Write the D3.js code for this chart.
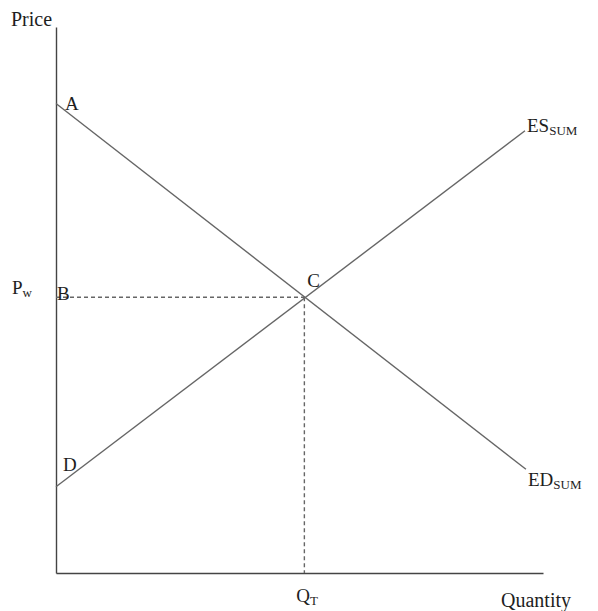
<!DOCTYPE html>
<html>
<head>
<meta charset="utf-8">
<script src="https://cdn.jsdelivr.net/npm/d3@7"></script>
<style>
  body { margin: 0; background: #fff; }
  text { font-family: "Liberation Serif", "Times New Roman", serif; fill: #1e1e1e; }
  .axis path { stroke: #444; stroke-width: 1.4; }
  .curve { stroke: #666; stroke-width: 1.4; fill: none; }
  .guide { stroke: #666; stroke-width: 1.4; stroke-dasharray: 4 3; }
</style>
</head>
<body>
<div id="wrapper"></div>
<script>
// values (abstract units, 0..100 on both axes)
const demandQuantity = [0, 96.5];
const demandPrice = [86, 19];
const supplyQuantity = [0, 96.3];
const supplyPrice = [15.8, 81];
const equilibriumQuantity = 51;
const worldPrice = 50.5;

const demandPoints = demandQuantity.map((q, i) => ({ q, p: demandPrice[i] }));
const supplyPoints = supplyQuantity.map((q, i) => ({ q, p: supplyPrice[i] }));

const qAccessor = (d) => d.q;
const pAccessor = (d) => d.p;

let dimensions = {
  width: 598,
  height: 611,
  margin: { top: 27, right: 55, bottom: 38, left: 56 },
};
dimensions.boundedWidth =
  dimensions.width - dimensions.margin.left - dimensions.margin.right;
dimensions.boundedHeight =
  dimensions.height - dimensions.margin.top - dimensions.margin.bottom;

const wrapper = d3
  .select("#wrapper")
  .append("svg")
  .attr("width", dimensions.width)
  .attr("height", dimensions.height);

const bounds = wrapper
  .append("g")
  .attr("transform", `translate(${dimensions.margin.left},${dimensions.margin.top})`);

const xScale = d3.scaleLinear().domain([0, 100]).range([0, dimensions.boundedWidth]);
const yScale = d3.scaleLinear().domain([0, 100]).range([dimensions.boundedHeight, 0]);

// axes: plain lines, no ticks
bounds
  .append("g")
  .attr("class", "axis")
  .attr("transform", `translate(0,${dimensions.boundedHeight})`)
  .call(d3.axisBottom(xScale).tickValues([]).tickSizeOuter(0));
bounds
  .append("g")
  .attr("class", "axis")
  .call(d3.axisLeft(yScale).tickValues([]).tickSizeOuter(0));

// dashed guides to the equilibrium
const cx = xScale(equilibriumQuantity);
const cy = yScale(worldPrice);
bounds.append("line").attr("class", "guide")
  .attr("x1", xScale(0)).attr("x2", cx).attr("y1", cy).attr("y2", cy);
bounds.append("line").attr("class", "guide")
  .attr("x1", cx).attr("x2", cx).attr("y1", cy).attr("y2", yScale(0));

const lineGenerator = d3
  .line()
  .x((d) => xScale(qAccessor(d)))
  .y((d) => yScale(pAccessor(d)));

bounds.append("path").attr("class", "curve").attr("d", lineGenerator(demandPoints));
bounds.append("path").attr("class", "curve").attr("d", lineGenerator(supplyPoints));

// labels
function addLabel(x, y, main, sub, size = 19) {
  const t = bounds.append("text").attr("x", x).attr("y", y).style("font-size", `${size}px`);
  t.append("tspan").text(main);
  if (sub) {
    t.append("tspan").attr("dy", 3).style("font-size", "13px").text(sub);
  }
  return t;
}

addLabel(-45, -1, "Price", null, 20);
addLabel(xScale(100) - 42, dimensions.boundedHeight + 34, "Quantity", null, 20);

const dEnd = demandPoints[demandPoints.length - 1];
const sEnd = supplyPoints[supplyPoints.length - 1];
addLabel(xScale(qAccessor(sEnd)) + 2, yScale(pAccessor(sEnd)) + 1, "ES", "SUM");
addLabel(xScale(qAccessor(dEnd)) + 2, yScale(pAccessor(dEnd)) + 17, "ED", "SUM");

addLabel(xScale(0) + 9, yScale(pAccessor(demandPoints[0])) + 7, "A");
addLabel(xScale(0) + 1, cy + 3, "B");
addLabel(cx + 3, cy - 10, "C");
addLabel(xScale(0) + 7, yScale(pAccessor(supplyPoints[0])) - 16, "D");

addLabel(-44, cy - 3, "P", "w");
addLabel(cx - 8, dimensions.boundedHeight + 29, "Q", "T");
</script>
</body>
</html>
